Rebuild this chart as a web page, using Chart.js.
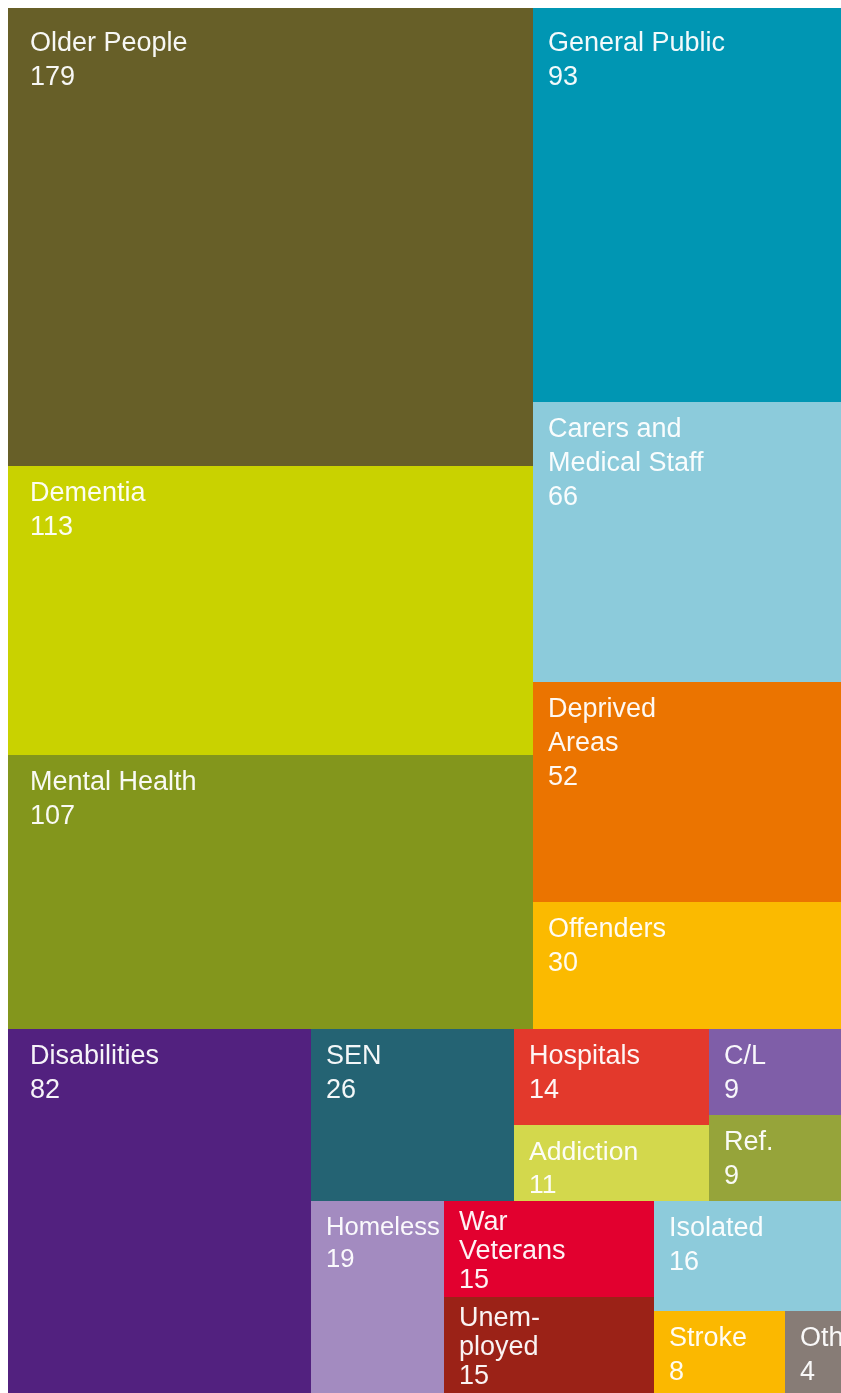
<!DOCTYPE html>
<html>
<head>
<meta charset="utf-8">
<script src="https://cdn.jsdelivr.net/npm/chart.js@4.4.1/dist/chart.umd.min.js"></script>
<style>
  html, body { margin: 0; padding: 0; background: #fff; overflow: hidden; }
  #wrap { width: 841px; height: 1393px; overflow: hidden; }
</style>
</head>
<body>
<div id="wrap"><canvas id="tree" width="858" height="1393" style="width:858px;height:1393px"></canvas></div>
<script>
// Treemap — beneficiary groups
const categories = [
  'Older People', 'General Public', 'Dementia', 'Carers and\nMedical Staff', 'Mental Health',
  'Deprived\nAreas', 'Offenders', 'Disabilities', 'SEN', 'Hospitals', 'C/L', 'Addiction', 'Ref.',
  'Homeless', 'War\nVeterans', 'Unem-\nployed', 'Isolated', 'Stroke', 'Other'
];
const values = [179, 93, 113, 66, 107, 52, 30, 82, 26, 14, 9, 11, 9, 19, 15, 15, 16, 8, 4];
const colors = [
  '#675f28', '#0096b3', '#c9d200', '#8ccbdb', '#83961c',
  '#eb7400', '#fbba00', '#52217f', '#246373', '#e3392c', '#7f5ea8', '#d3d84c', '#96a43a',
  '#a38bc0', '#e2002f', '#9b2217', '#8dcbdb', '#fbb800', '#877c76'
];

// nesting of the cells: 'h' = side by side, 'v' = stacked, numbers = index in categories
const layoutTree = ['v',
  ['h', ['v', 0, 2, 4], ['v', 1, 3, 5, 6]],
  ['h', 7,
    ['v',
      ['h', 8, ['h', ['v', 9, 11], ['v', 10, 12]]],
      ['h', 13, ['v', 14, 15], ['v', 16, ['h', 17, 18]]]
    ]
  ]
];

function sumOf(node) {
  if (typeof node === 'number') return values[node];
  return node.slice(1).reduce((s, n) => s + sumOf(n), 0);
}

function place(node, x0, y0, x1, y1, out) {
  if (typeof node === 'number') {
    out.push({ i: node, x0, y0, x1, y1, x: (x0 + x1) / 2, y: (y0 + y1) / 2 });
    return;
  }
  const total = sumOf(node);
  let pos = node[0] === 'h' ? x0 : y0;
  node.slice(1).forEach(k => {
    const f = sumOf(k) / total;
    if (node[0] === 'h') {
      const nx = pos + (x1 - x0) * f;
      place(k, pos, y0, nx, y1, out);
      pos = nx;
    } else {
      const ny = pos + (y1 - y0) * f;
      place(k, x0, pos, x1, ny, out);
      pos = ny;
    }
  });
}

const cells = [];
place(layoutTree, 0, 0, 1, 1, cells);

const FONT = '"Liberation Sans", Arial, sans-serif';

const treemapCells = {
  id: 'treemapCells',
  afterDatasetsDraw(chart) {
    const ctx = chart.ctx;
    const xs = chart.scales.x, ys = chart.scales.y;
    chart.data.datasets[0].data.forEach(c => {
      const l = Math.round(xs.getPixelForValue(c.x0));
      const r = Math.round(xs.getPixelForValue(c.x1));
      const t = Math.round(ys.getPixelForValue(c.y0));
      const b = Math.round(ys.getPixelForValue(c.y1));
      ctx.save();
      ctx.fillStyle = colors[c.i];
      ctx.fillRect(l, t, r - l, b - t);
      ctx.beginPath();
      ctx.rect(l, t, r - l, b - t);
      ctx.clip();

      const lines = categories[c.i].split('\n').concat(String(values[c.i]));
      const n = lines.length;
      const padX = c.x0 === 0 ? 22 : 15;
      let padY = c.y0 === 0 ? 22 : 14;
      let lf = 1.26;
      let size = 27;
      const w = r - l, h = b - t;
      if (padY + (n - 1) * size * lf + size + 2 > h) {
        size = (h - padY - 2) / ((n - 1) * lf + 1);
        if (size < 24) {
          // tight cell: squeeze the spacing as well
          padY = 8; lf = 1.08;
          size = Math.min(27, (h - padY - 2) / ((n - 1) * lf + 1));
        }
      }
      if (c.x1 < 1) {
        ctx.font = size + 'px ' + FONT;
        const widest = Math.max(...lines.map(s => ctx.measureText(s).width));
        if (widest + padX + 4 > w) size = size * (w - padX - 4) / widest;
      }
      ctx.font = size + 'px ' + FONT;
      ctx.fillStyle = 'rgba(255,255,255,0.95)';
      ctx.textBaseline = 'top';
      ctx.textAlign = 'left';
      lines.forEach((txt, k) => ctx.fillText(txt, l + padX, t + padY + k * size * lf));
      ctx.restore();
    });
  }
};

new Chart(document.getElementById('tree'), {
  type: 'scatter',
  data: { datasets: [{ data: cells, pointRadius: 0, pointHoverRadius: 0 }] },
  options: {
    responsive: false,
    animation: false,
    layout: { padding: { left: 8, top: 8, right: 8, bottom: 0 } },
    scales: {
      x: { type: 'linear', min: 0, max: 1, display: false },
      y: { type: 'linear', min: 0, max: 1, reverse: true, display: false }
    },
    plugins: { legend: { display: false }, tooltip: { enabled: false } }
  },
  plugins: [treemapCells]
});
</script>
</body>
</html>
